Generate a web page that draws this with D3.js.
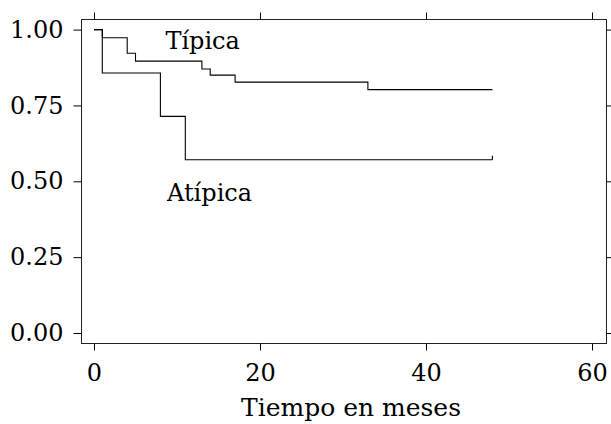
<!DOCTYPE html>
<html>
<head>
<meta charset="utf-8">
<script src="https://cdn.jsdelivr.net/npm/d3@7"></script>
<style>
  body { margin: 0; background: #fff; }
  svg { display: block; }
  .axis text { font-family: "DejaVu Serif", serif; font-size: 24px; fill: #000; }
  .axis line { stroke: #000; }
</style>
</head>
<body>
<div id="chart"></div>
<script>
// survival estimates
const tipicaTime = [0, 1, 4, 5, 13, 14, 17, 33, 48];
const tipicaSurv = [1, 0.973, 0.922, 0.896, 0.870, 0.850, 0.827, 0.802, 0.802];
const atipicaTime = [0, 1, 8, 11, 48];
const atipicaSurv = [1, 0.857, 0.714, 0.571, 0.571];
const atipicaCensored = [48];

const xTicks = [0, 20, 40, 60];
const yTicks = [0, 0.25, 0.5, 0.75, 1];

const groupLabels = ['Típica', 'Atípica'];
const labelAt = [[8.6, 0.935], [8.8, 0.436]];   // data coords
const xTitle = 'Tiempo en meses';

const width = 611, height = 424;
const frame = {left: 81, right: 606, top: 19, bottom: 343};

const svg = d3.select('#chart').append('svg')
    .attr('width', width)
    .attr('height', height);

const x = d3.scaleLinear().domain([0, 60]).range([94, 592]);
const y = d3.scaleLinear().domain([0, 1]).range([333, 29.6]);

// box
svg.append('rect')
    .attr('x', frame.left + 0.5)
    .attr('y', frame.top + 0.5)
    .attr('width', frame.right - frame.left)
    .attr('height', frame.bottom - frame.top)
    .attr('fill', 'none')
    .attr('stroke', '#222')
    .attr('stroke-width', 1);

let axLeft = svg.append('g').attr('class', 'axis')
    .attr('transform', 'translate(' + (frame.left + 0.5) + ',0)')
    .call(d3.axisLeft(y).tickValues(yTicks).tickFormat(d3.format('.2f'))
        .tickSize(8).tickSizeOuter(0).tickPadding(10));

let axRight = svg.append('g').attr('class', 'axis')
    .attr('transform', 'translate(' + (frame.right + 0.5) + ',0)')
    .call(d3.axisRight(y).tickValues(yTicks).tickFormat('')
        .tickSize(7).tickSizeOuter(0));

let axBottom = svg.append('g').attr('class', 'axis')
    .attr('transform', 'translate(0,' + (frame.bottom + 0.5) + ')')
    .call(d3.axisBottom(x).tickValues(xTicks).tickFormat(d3.format('d'))
        .tickSize(7).tickSizeOuter(0).tickPadding(13));

let axTop = svg.append('g').attr('class', 'axis')
    .attr('transform', 'translate(0,' + (frame.top + 0.5) + ')')
    .call(d3.axisTop(x).tickValues(xTicks).tickFormat('')
        .tickSize(7).tickSizeOuter(0));

[axLeft, axRight, axBottom, axTop].forEach(a => a.select('.domain').remove());

// curves
let stepLine = d3.line()
    .curve(d3.curveStepAfter)
    .x(d => x(d[0]))
    .y(d => y(d[1]));

let curves = [
    d3.zip(tipicaTime, tipicaSurv),
    d3.zip(atipicaTime, atipicaSurv)
];

svg.append('g').selectAll('path')
    .data(curves)
    .enter()
    .append('path')
    .attr('d', d => stepLine(d))
    .attr('fill', 'none')
    .attr('stroke', '#000')
    .attr('stroke-width', 1.1);

// censoring mark at the end of the atypical curve
svg.append('g').selectAll('line')
    .data(atipicaCensored)
    .enter()
    .append('line')
    .attr('x1', d => x(d)).attr('x2', d => x(d))
    .attr('y1', y(atipicaSurv[atipicaSurv.length - 1]))
    .attr('y2', y(atipicaSurv[atipicaSurv.length - 1]) - 4)
    .attr('stroke', '#000')
    .attr('stroke-width', 1.1);

// group labels
svg.append('g').selectAll('text')
    .data(groupLabels)
    .enter()
    .append('text')
    .attr('x', (d, i) => x(labelAt[i][0]))
    .attr('y', (d, i) => y(labelAt[i][1]))
    .attr('font-family', '"DejaVu Serif", serif')
    .attr('font-size', 24)
    .text(d => d);

// x title
svg.append('text')
    .attr('x', 351)
    .attr('y', 416)
    .attr('text-anchor', 'middle')
    .attr('font-family', '"DejaVu Serif", serif')
    .attr('font-size', 25)
    .text(xTitle);
</script>
</body>
</html>
